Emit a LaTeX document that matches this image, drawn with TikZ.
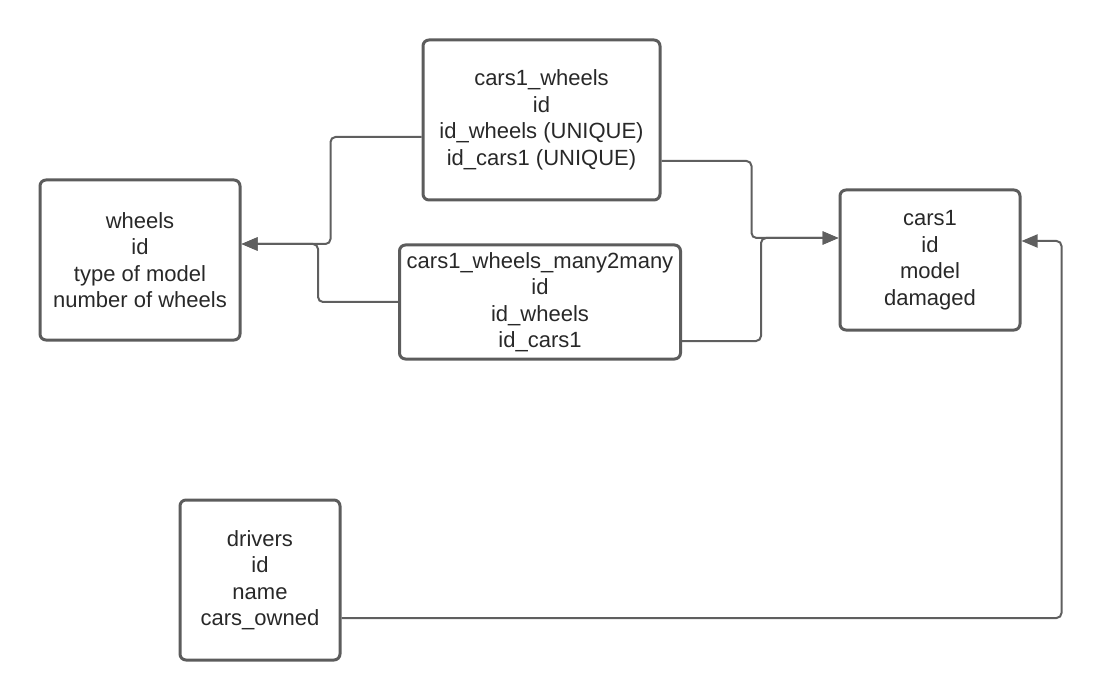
\documentclass[tikz,border=0pt]{standalone}
\usepackage{fontspec}
\setmainfont{Liberation Sans}
\usetikzlibrary{arrows.meta}
\definecolor{boxc}{HTML}{5C5C5C}
\definecolor{linec}{HTML}{5F5F5F}
\definecolor{txtc}{HTML}{282828}
\begin{document}
\begin{tikzpicture}[x=1pt,y=-1pt,
  tbl/.style={draw=boxc, line width=3pt, rounded corners=6pt, align=center,
    text=txtc, inner sep=0pt, font=\fontsize{22}{26.5}\selectfont},
  conn/.style={draw=linec, line width=2pt, rounded corners=5pt},
  arr/.style={-{Triangle[length=16pt,width=13pt]}}]
\useasboundingbox (0,0) rectangle (1102,700);
\node[tbl, minimum width=200pt, minimum height=160pt] (wheels) at (140,260)
  {wheels\\id\\type of model\\number of wheels};
\node[tbl, minimum width=237pt, minimum height=160pt] (cw) at (541.5,120)
  {cars1\_wheels\\id\\id\_wheels (UNIQUE)\\id\_cars1 (UNIQUE)};
\node[tbl, minimum width=281pt, minimum height=114pt] (mm) at (540,302)
  {cars1\_wheels\_many2many\\id\\id\_wheels\\id\_cars1};
\node[tbl, minimum width=180pt, minimum height=140pt] (cars) at (930,260)
  {cars1\\id\\model\\damaged};
\node[tbl, minimum width=160pt, minimum height=160pt] (drivers) at (260,580)
  {drivers\\id\\name\\cars\_owned};
\draw[conn,arr] ([yshift=-17pt]cw.west) -- ++(-91,0) |- ([yshift=16pt]wheels.east);
\draw[conn,arr] (mm.west) -- ++(-80,0) |- ([yshift=16pt]wheels.east);
\draw[conn,arr] ([yshift=-41pt]cw.east) -- ++(90,0) |- ([yshift=22pt]cars.west);
\draw[conn,arr] ([yshift=-39pt]mm.east) -- ++(79,0) |- ([yshift=22pt]cars.west);
\draw[conn,arr] ([yshift=-38pt]drivers.east) -- ++(720,0) |- ([yshift=19pt]cars.east);
\end{tikzpicture}
\end{document}
